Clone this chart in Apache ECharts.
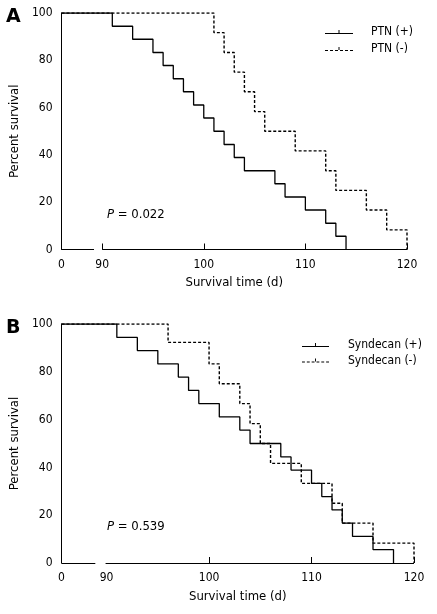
<!DOCTYPE html>
<html>
<head>
<meta charset="utf-8">
<script src="https://cdn.jsdelivr.net/npm/echarts@6/dist/echarts.min.js"></script>
<style>html,body{margin:0;padding:0;background:#fff;}#c{width:437px;height:614px;}</style>
</head>
<body>
<div id="c"></div>
<script>
// ---- data ----
const ptnPosTimes = [91,93,95,96,97,98,99,100,101,102,103,104,107,108,110,112,113,114];
const ptnPosSurv  = [94.4,88.9,83.3,77.8,72.2,66.7,61.1,55.6,50.0,44.4,38.9,33.3,27.8,22.2,16.7,11.1,5.6,0];
const ptnNegTimes = [101,102,103,104,105,106,109,112,113,116,118,120];
const ptnNegSurv  = [91.7,83.3,75.0,66.7,58.3,50.0,41.7,33.3,25.0,16.7,8.3,0];
const synPosTimes = [91,93,95,97,98,99,101,103,104,107,108,110,111,112,113,114,116,118];
const synPosSurv  = [94.4,88.9,83.3,77.8,72.2,66.7,61.1,55.6,50.0,44.4,38.9,33.3,27.8,22.2,16.7,11.1,5.6,0];
const synNegTimes = [96,100,101,103,104,105,106,109,112,113,116,120];
const synNegSurv  = [92.3,83.3,75.0,66.7,58.3,50.0,41.7,33.3,25.0,16.7,8.3,0];

const xTickLabels = ['0','90','100','110','120'];
const xTickValuesA = [86,90,100,110,120];   // "0" is drawn at the broken-axis start
const xTickValuesB = [85.6,90,100,110,120];
const xBreakA = [89.2, 90];
const xBreakB = [88.9, 89.9];
const yTicks = [0,20,40,60,80,100];
const legendA = ['PTN (+)','PTN (-)'];
const legendB = ['Syndecan (+)','Syndecan (-)'];
const pTexts = ['0.022','0.539'];

// ---- styling ----
const FF = "'DejaVu Sans Condensed', 'DejaVu Sans', sans-serif";
const solidIcon = 'path://M0,3H28V4H0Z M13.5,0H14.5V3H13.5Z';
const dashIcon = 'path://M0,3h3v1h-3z M5,3h3v1h-3z M10,3h3v1h-3z M15,3h3v1h-3z M20,3h3v1h-3z M25,3h3v1h-3z M13.5,0h1v3h-1z';

function km(start, times, surv){
  return [[start,100]].concat(times.map((t,i)=>[t,surv[i]]));
}
function labelMap(vals){
  return function(v){
    for (let i=0;i<vals.length;i++){ if (Math.abs(vals[i]-v)<1e-6) return xTickLabels[i]; }
    return '';
  };
}
function xAxis(gi, vals){
  return {
    gridIndex: gi, type:'value', min: vals[0], max: vals[vals.length-1],
    axisLine:{show:false}, splitLine:{show:false},
    axisTick:{show:true, inside:true, length:6, customValues: gi===0 ? vals.slice(1) : vals.slice(2), lineStyle:{color:'#000', width:1}},
    axisLabel:{customValues: vals, formatter: labelMap(vals), margin:9, color:'#000', fontSize:12, fontFamily:FF, showMinLabel:true, showMaxLabel:true},
    name:'Survival time (d)', nameLocation:'middle', nameGap:27,
    nameTextStyle:{color:'#000', fontSize:13, fontFamily:FF}
  };
}
function yAxis(gi){
  return {
    gridIndex: gi, type:'value', min: yTicks[0], max: yTicks[yTicks.length-1], interval: 20,
    axisLine:{show:true, lineStyle:{color:'#000', width:1}},
    axisTick:{show:false}, splitLine:{show:false},
    axisLabel:{margin:9, color:'#000', fontSize:12, fontFamily:FF},
    name:'Percent survival', nameLocation:'middle', nameGap:35, nameRotate:90,
    nameTextStyle:{color:'#000', fontSize:13, fontFamily:FF}
  };
}
function baseLine(vals, brk){
  return {
    silent:true, symbol:'none', animation:false, label:{show:false},
    lineStyle:{color:'#000', type:'solid', width:1},
    data:[[{coord:[vals[0],0]},{coord:[brk[0],0]}],[{coord:[brk[1],0]},{coord:[vals[vals.length-1],0]}]]
  };
}
function ser(name, gi, data, dashed, ml){
  const s = {
    name, type:'line', xAxisIndex:gi, yAxisIndex:gi, step:'end', symbol:'none',
    data, color:'#000',
    lineStyle:{color:'#000', width: dashed ? 1.4 : 1.3, type: dashed ? [3,2] : 'solid'},
    animation:false
  };
  if (ml) s.markLine = ml;
  return s;
}

const chart = echarts.init(document.getElementById('c'), null, {renderer:'canvas'});
chart.setOption({
  backgroundColor:'#fff',
  animation:false,
  grid:[
    {left:57, top:13, width:350, height:236.5},
    {left:57, top:324, width:357, height:239}
  ],
  xAxis:[xAxis(0, xTickValuesA), xAxis(1, xTickValuesB)],
  yAxis:[yAxis(0), yAxis(1)],
  legend:[
    {data:[{name:legendA[0], icon:solidIcon},{name:legendA[1], icon:dashIcon}],
     orient:'vertical', left:325, top:26, itemWidth:28, itemHeight:4, itemGap:5, padding:0,
     selectedMode:false,
     textStyle:{color:'#000', fontSize:12, fontFamily:FF, padding:[0,0,0,13]}},
    {data:[{name:legendB[0], icon:solidIcon},{name:legendB[1], icon:dashIcon}],
     orient:'vertical', left:302, top:339, itemWidth:27, itemHeight:4, itemGap:3.5, padding:0,
     selectedMode:false,
     textStyle:{color:'#000', fontSize:12, fontFamily:FF, padding:[0,0,0,14]}}
  ],
  title:[
    {text:'A', left:6, top:8, padding:0, textStyle:{fontSize:19, fontWeight:'bold', color:'#000', fontFamily:"'DejaVu Sans', sans-serif"}},
    {text:'B', left:6, top:319, padding:0, textStyle:{fontSize:19, fontWeight:'bold', color:'#000', fontFamily:"'DejaVu Sans', sans-serif"}},
    {text:'{i|P} = ' + pTexts[0], left:107, top:208, padding:0,
     textStyle:{fontSize:13, fontWeight:'normal', color:'#000', fontFamily:FF, rich:{i:{fontStyle:'italic', fontSize:13, fontFamily:FF, color:'#000'}}}},
    {text:'{i|P} = ' + pTexts[1], left:107, top:520, padding:0,
     textStyle:{fontSize:13, fontWeight:'normal', color:'#000', fontFamily:FF, rich:{i:{fontStyle:'italic', fontSize:13, fontFamily:FF, color:'#000'}}}}
  ],
  series:[
    ser(legendA[0], 0, km(xTickValuesA[0], ptnPosTimes, ptnPosSurv), false, baseLine(xTickValuesA, xBreakA)),
    ser(legendA[1], 0, km(xTickValuesA[0], ptnNegTimes, ptnNegSurv), true),
    ser(legendB[0], 1, km(xTickValuesB[0], synPosTimes, synPosSurv), false, baseLine(xTickValuesB, xBreakB)),
    ser(legendB[1], 1, km(xTickValuesB[0], synNegTimes, synNegSurv), true)
  ]
});
</script>
</body>
</html>
